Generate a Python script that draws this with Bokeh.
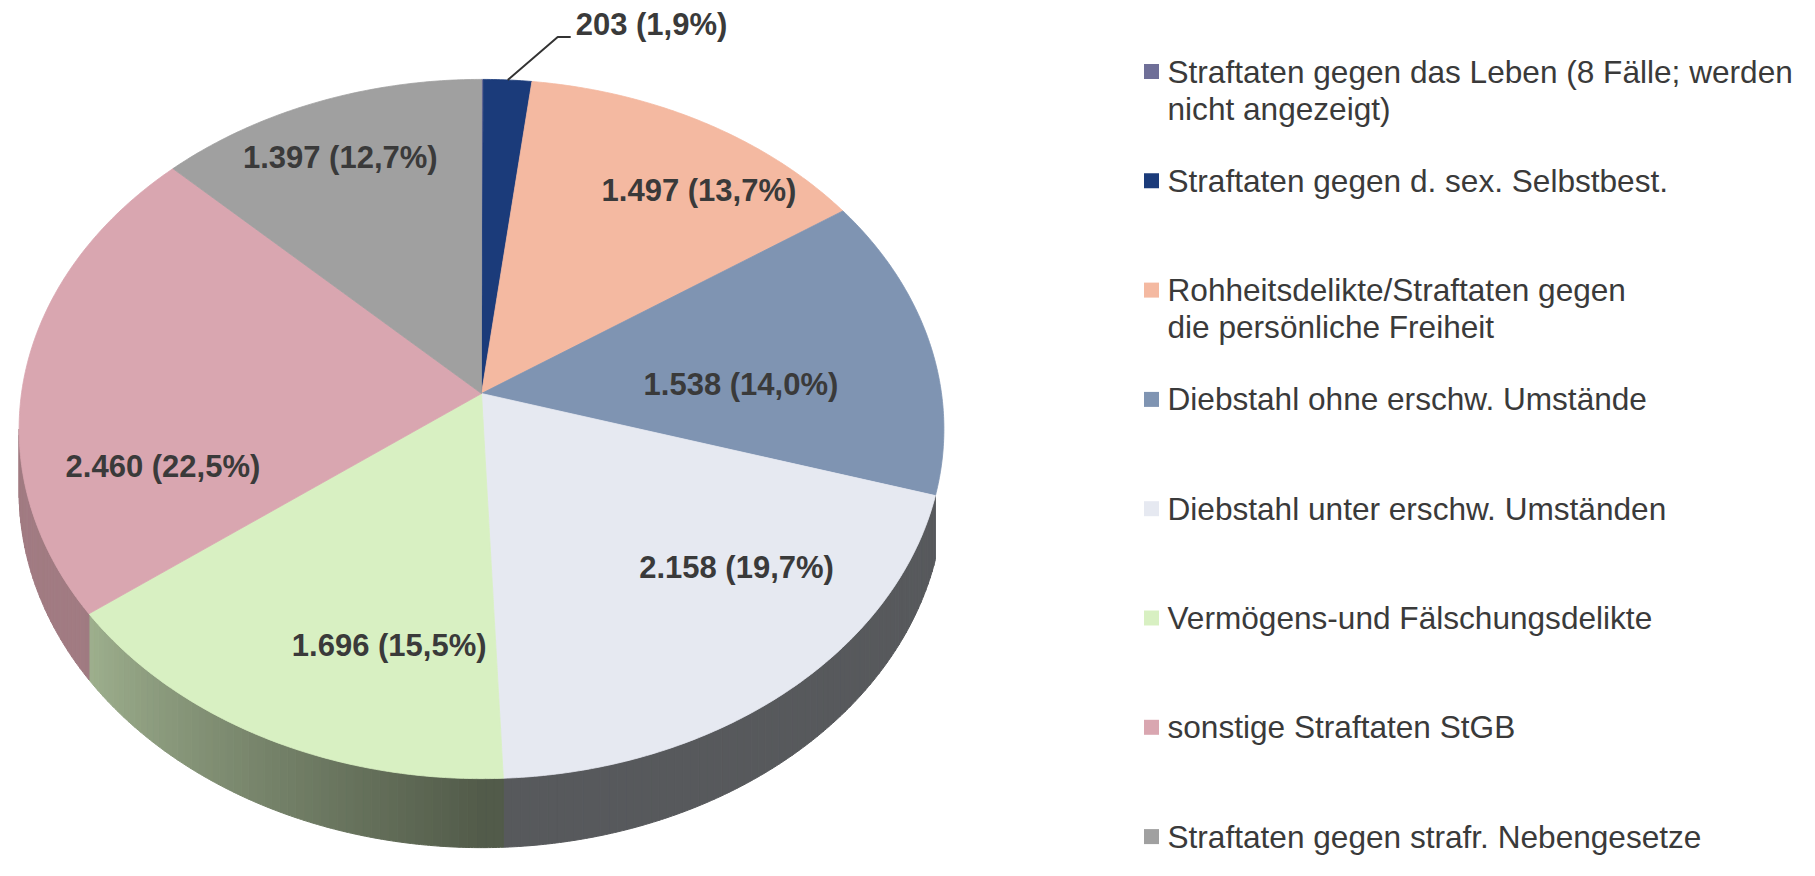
import numpy as np
from bokeh.plotting import figure
from bokeh.models import Range1d, ColumnDataSource
from bokeh.core.properties import value
from bokeh.embed import file_html
from bokeh.resources import INLINE

# ---------------- data ----------------
categories = [
    "Straftaten gegen das Leben (8 Fälle; werden\nnicht angezeigt)",
    "Straftaten gegen d. sex. Selbstbest.",
    "Rohheitsdelikte/Straftaten gegen\ndie persönliche Freiheit",
    "Diebstahl ohne erschw. Umstände",
    "Diebstahl unter erschw. Umständen",
    "Vermögens-und Fälschungsdelikte",
    "sonstige Straftaten StGB",
    "Straftaten gegen strafr. Nebengesetze",
]
counts = [8, 203, 1497, 1538, 2158, 1696, 2460, 1397]
colors = ["#6f6f98", "#1b3b7a", "#f4b9a1", "#7f94b2",
          "#e6e9f1", "#d8f0c2", "#d9a6b0", "#a0a0a0"]

# ---------------- layout (not data) ----------------
label_mode = ["none", "outside", "inside", "inside", "inside", "inside", "inside", "inside"]
label_r = [0, 1.0, 0.80, 0.566, 0.712, 0.703, 0.709, 0.803]
label_dtheta = [0, 0, 7.4, 6.0, -9.9, -10.0, -20.7, -1.3]

CX, CY = 481.0, 393.0      # apex of the pie (px)
SX, SY = 460.0, 346.0      # horizontal / vertical radius scale
K = 0.1016                 # perspective strength
DEPTH = 62.0               # thickness of the pie
MIN_WALL = 12.0            # narrowest visible side wall (degrees)
FONT = "Liberation Sans"
TXT = "#3a3a3a"

total = float(sum(counts))
fracs = [c / total for c in counts]
cum = np.concatenate([[0.0], np.cumsum(fracs)]) * 360.0


def proj(theta_deg, r=1.0):
    t = np.radians(theta_deg)
    X = r * np.sin(t)
    Z = r * np.cos(t)
    w = 1.0 + K * Z
    return CX + SX * X / w, CY - SY * Z / w


def depth_at(theta_deg):
    return DEPTH / (1.0 + K * np.cos(np.radians(theta_deg)))


def shade(hexcol, f):
    h = hexcol.lstrip("#")
    rgb = [int(h[i:i + 2], 16) for i in (0, 2, 4)]
    return "#%02x%02x%02x" % tuple(int(round(c * f)) for c in rgb)


def shade_factor(theta):
    return 0.38 + 0.36 * float(np.clip((theta - 180.0) / 55.0, 0.0, 1.0))


p = figure(width=1799, height=860, x_range=Range1d(0, 1799), y_range=Range1d(860, 0),
           output_backend="svg", toolbar_location=None, min_border=0)
p.axis.visible = False
p.grid.visible = False
p.outline_line_color = None
p.background_fill_color = "white"

# ---------------- side walls ----------------
th_s = np.degrees(np.arccos(-K))
lo, hi = th_s, 360.0 - th_s
wall_xs, wall_ys, wall_c = [], [], []
for i in range(len(counts)):
    a, b = max(cum[i], lo), min(cum[i + 1], hi)
    if b - a < MIN_WALL:
        continue
    n = max(1, int(np.ceil((b - a) / 1.0)))
    edges = np.linspace(a, b, n + 1)
    for t0, t1 in zip(edges[:-1], edges[1:]):
        ts = np.linspace(t0, t1, 4)
        tx, ty = proj(ts)
        by = ty + depth_at(ts)
        wall_xs.append(list(tx) + list(tx[::-1]))
        wall_ys.append(list(ty) + list(by[::-1]))
        wall_c.append(shade(colors[i], shade_factor(0.5 * (t0 + t1))))
p.patches("xs", "ys", source=ColumnDataSource(dict(xs=wall_xs, ys=wall_ys, c=wall_c)),
          fill_color="c", line_color="c", line_width=1)

# ---------------- top faces ----------------
top_xs, top_ys = [], []
for i in range(len(counts)):
    ts = np.linspace(cum[i], cum[i + 1], max(3, int((cum[i + 1] - cum[i]) * 2) + 2))
    tx, ty = proj(ts)
    top_xs.append([CX] + list(tx))
    top_ys.append([CY] + list(ty))
p.patches("xs", "ys", source=ColumnDataSource(dict(xs=top_xs, ys=top_ys, c=colors)),
          fill_color="c", line_color="c", line_width=0.8)


def fmt(c):
    pct = round(c / total * 100.0, 1)
    return "{:,}".format(c).replace(",", ".") + " (" + ("%.1f" % pct).replace(".", ",") + "%)"


# ---------------- data labels ----------------
lx, ly, lt = [], [], []
for i in range(len(counts)):
    mid = 0.5 * (cum[i] + cum[i + 1])
    if label_mode[i] == "inside":
        x, y = proj(mid + label_dtheta[i], label_r[i])
        lx.append(x); ly.append(y); lt.append(fmt(counts[i]))
    elif label_mode[i] == "outside":
        sx, sy = proj(mid, 1.0)
        ex, ey = sx + 50, sy - 43
        fx, fy = ex + 13, ey
        p.line([sx, ex, fx], [sy, ey, fy], line_color="#333333", line_width=2)
        p.text([fx + 5], [fy - 12], text=[fmt(counts[i])], text_font=value(FONT),
               text_font_size="31px", text_font_style="bold", text_color=TXT,
               text_align="left", text_baseline="middle")
p.text(lx, ly, text=lt, text_font=value(FONT), text_font_size="31px",
       text_font_style="bold", text_color=TXT, text_align="center", text_baseline="middle")

# ---------------- legend ----------------
LEG_X, LEG_Y0, LEG_DY, LINE_DY = 1151, 71, 109.3, 37
FS = 31.6
mx, my, tx_, ty_, tt = [], [], [], [], []
for i, cat in enumerate(categories):
    y0 = LEG_Y0 + i * LEG_DY
    mx.append(LEG_X); my.append(y0)
    for j, line in enumerate(cat.split("\n")):
        tx_.append(LEG_X + 16); ty_.append(y0 + j * LINE_DY); tt.append(line)
p.scatter(mx, my, marker="square", size=15, fill_color=colors, line_color=None)
p.text(tx_, ty_, text=tt, text_font=value(FONT), text_font_size="%.1fpx" % FS,
       text_color=TXT, text_align="left", text_baseline="middle")

open("out.html", "w").write(file_html(p, INLINE))
